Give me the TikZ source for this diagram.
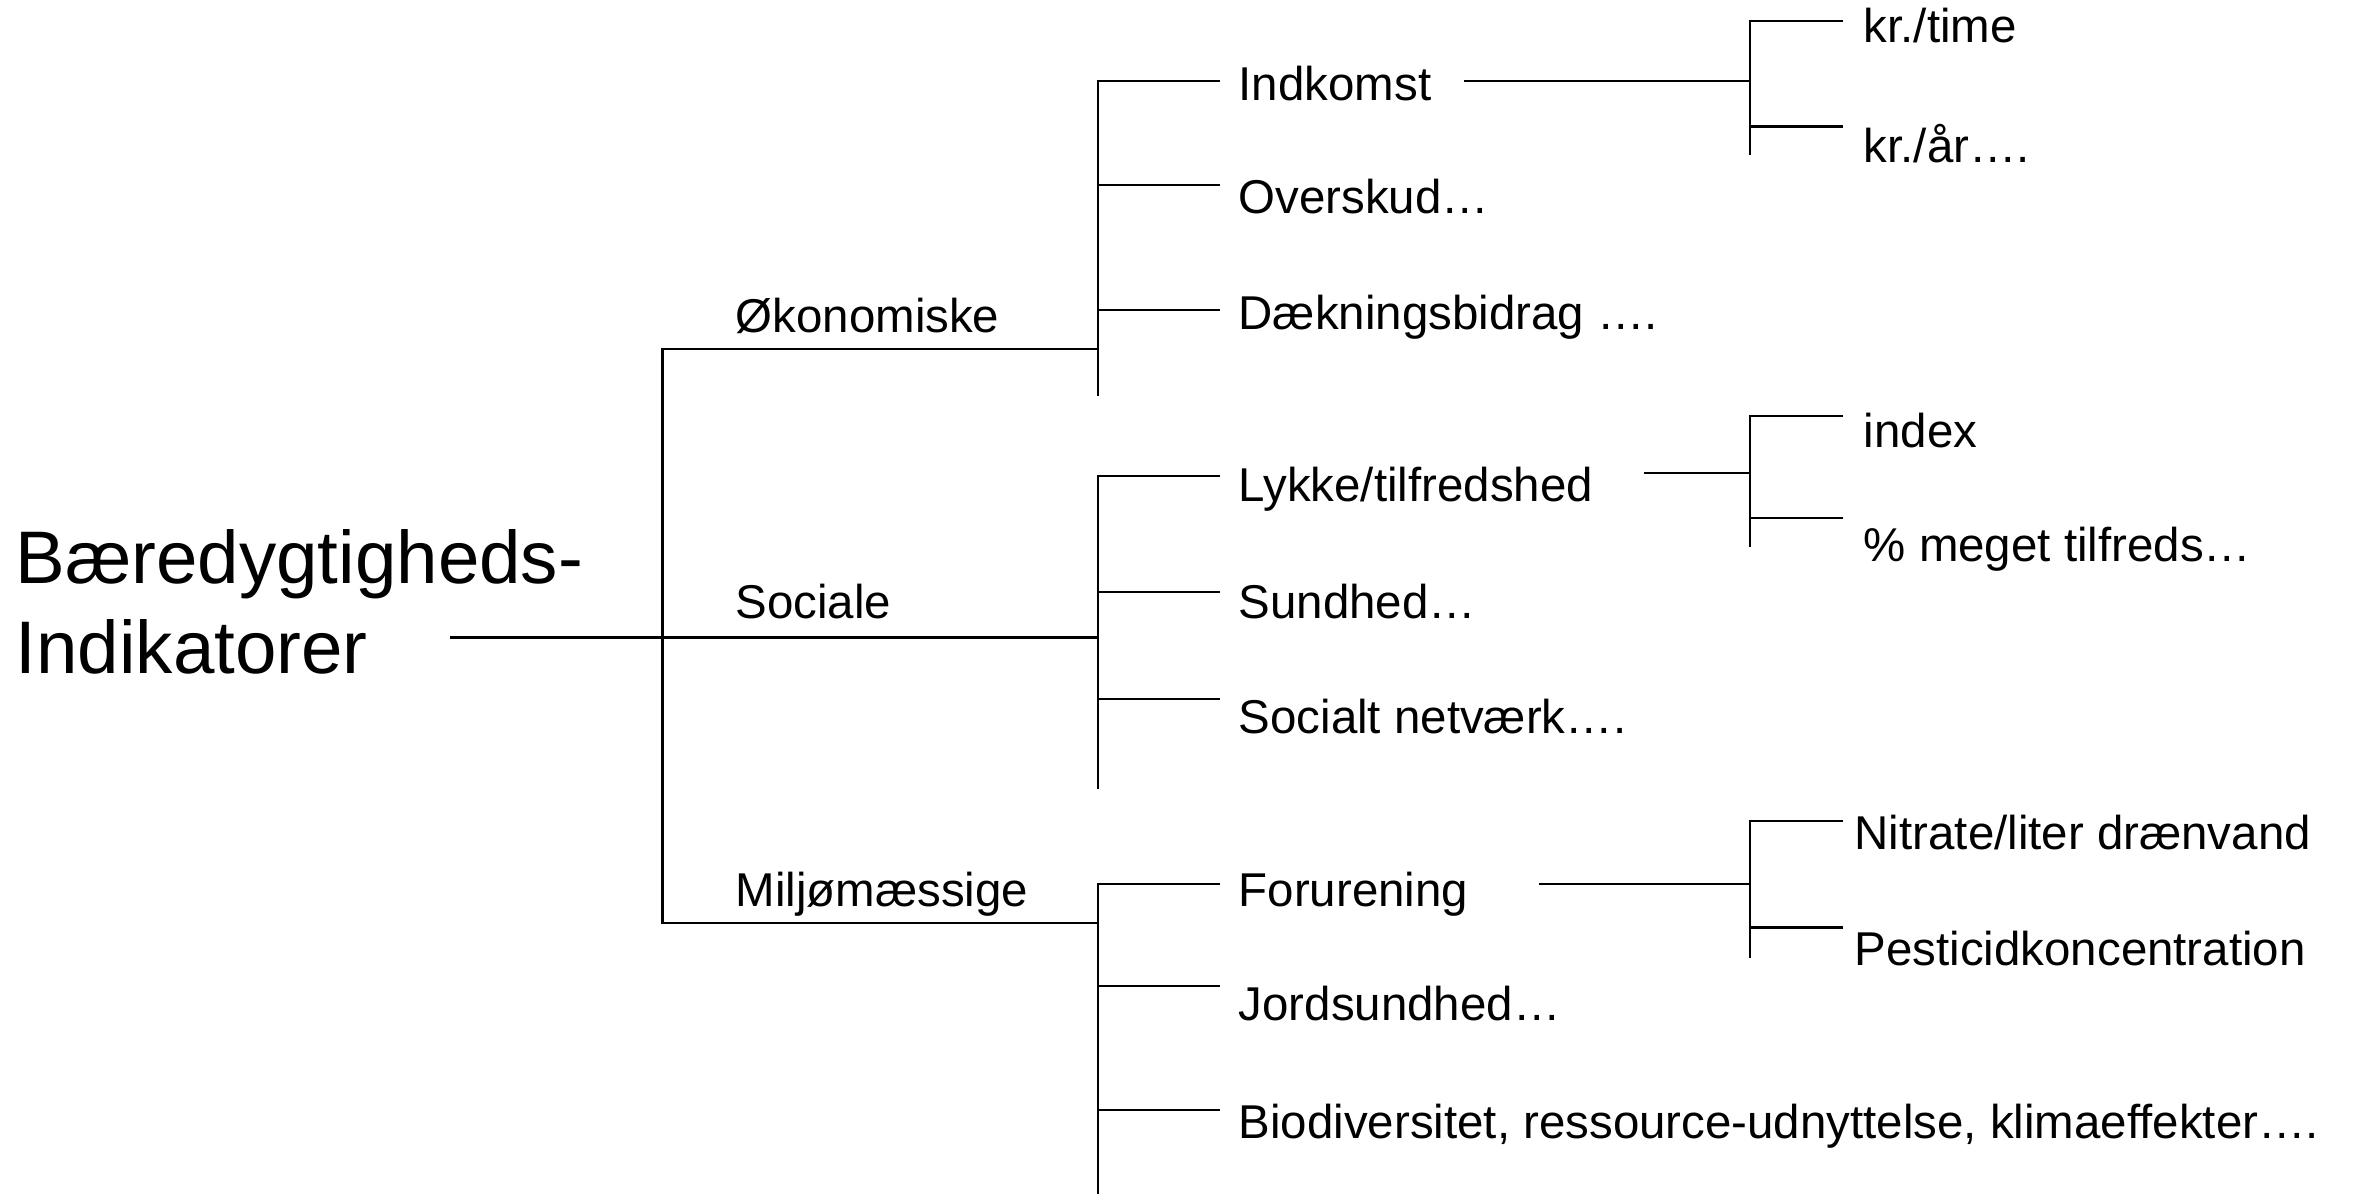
\documentclass[tikz,border=0pt]{standalone}
\usepackage{fontspec}
\setmainfont{Liberation Sans}
\usetikzlibrary{positioning,calc}
\tikzset{
  rootlabel/.style={font=\fontsize{21.2}{25.6}\selectfont, align=left, anchor=base west, inner sep=0pt},
  grouplabel/.style={font=\fontsize{13.5}{16}\selectfont, anchor=base west, inner sep=0pt},
  itemlabel/.style={grouplabel},
  treeline/.style={draw=black, line width=0.6pt}
}
\begin{document}
\begin{tikzpicture}
  \useasboundingbox (0,0) rectangle (23.61,-11.94);
  % labels
  \node[rootlabel] (root) at (0.15,-6.731) {Bæredygtigheds-\\Indikatorer};
  \node[grouplabel] (okon) at (7.35,-3.328) {Økonomiske};
  \node[grouplabel] (soc) at (7.35,-6.188) {Sociale};
  \node[grouplabel] (milj) at (7.35,-9.064) {Miljømæssige};
  \node[itemlabel] (indkomst) at (12.38,-1.000) {Indkomst};
  \node[itemlabel] (overskud) at (12.38,-2.131) {Overskud…};
  \node[itemlabel] (daekning) at (12.38,-3.297) {Dækningsbidrag ….};
  \node[itemlabel] (lykke) at (12.38,-5.014) {Lykke/tilfredshed};
  \node[itemlabel] (sundhed) at (12.38,-6.188) {Sundhed…};
  \node[itemlabel] (netvaerk) at (12.38,-7.333) {Socialt netværk….};
  \node[itemlabel] (forurening) at (12.38,-9.064) {Forurening};
  \node[itemlabel] (jord) at (12.38,-10.209) {Jordsundhed…};
  \node[itemlabel] (biodiv) at (12.38,-11.383) {Biodiversitet, ressource-udnyttelse, klimaeffekter….};
  \node[itemlabel] (krtime) at (18.63,-0.422) {kr./time};
  \node[itemlabel] (krar) at (18.63,-1.626) {kr./år….};
  \node[itemlabel] (index) at (18.63,-4.472) {index};
  \node[itemlabel] (tilfreds) at (18.63,-5.616) {\% meget tilfreds…};
  \node[itemlabel] (nitrat) at (18.54,-8.492) {Nitrate/liter drænvand};
  \node[itemlabel] (pestic) at (18.54,-9.652) {Pesticidkoncentration};
  % level 1
  \coordinate (rootend) at (4.50,-6.375);
  \coordinate (lonebar) at (6.625,0);
  \coordinate (okj) at (10.98,-3.493);
  \coordinate (soj) at (10.98,-6.375);
  \coordinate (mij) at (10.98,-9.230);
  \draw[treeline] (rootend) -- (soj);
  \draw[treeline] (okj) -| (lonebar |- mij) -- (mij);
  % level 2
  \coordinate (okbar) at (10.98,-3.960);
  \coordinate (sobar) at (10.98,-7.890);
  \coordinate (mibar) at (10.98,-11.94);
  \coordinate (indkomst-in) at (12.196,-0.813);
  \coordinate (overskud-in) at (12.196,-1.852);
  \coordinate (daekning-in) at (12.196,-3.102);
  \coordinate (lykke-in) at (12.196,-4.758);
  \coordinate (sundhed-in) at (12.196,-5.917);
  \coordinate (netvaerk-in) at (12.196,-6.986);
  \coordinate (forurening-in) at (12.196,-8.838);
  \coordinate (jord-in) at (12.196,-9.862);
  \coordinate (biodiv-in) at (12.196,-11.097);
  \draw[treeline] (indkomst-in) -| (okbar);
  \draw[treeline] (overskud-in) -- (overskud-in -| okbar);
  \draw[treeline] (daekning-in) -- (daekning-in -| okbar);
  \draw[treeline] (lykke-in) -| (sobar);
  \draw[treeline] (sundhed-in) -- (sundhed-in -| sobar);
  \draw[treeline] (netvaerk-in) -- (netvaerk-in -| sobar);
  \draw[treeline] (forurening-in) -| (mibar);
  \draw[treeline] (jord-in) -- (jord-in -| mibar);
  \draw[treeline] (biodiv-in) -- (biodiv-in -| mibar);
  % level 3
  \coordinate (indkomst-out) at (14.635,-0.813);
  \coordinate (lykke-out) at (16.442,-4.728);
  \coordinate (forurening-out) at (15.388,-8.838);
  \coordinate (krbar) at (17.496,-1.551);
  \coordinate (lykkebar) at (17.496,-5.466);
  \coordinate (forbar) at (17.496,-9.576);
  \coordinate (krtime-in) at (18.43,-0.211);
  \coordinate (krar-in) at (18.43,-1.265);
  \coordinate (index-in) at (18.43,-4.156);
  \coordinate (tilfreds-in) at (18.43,-5.180);
  \coordinate (nitrat-in) at (18.43,-8.206);
  \coordinate (pestic-in) at (18.43,-9.275);
  \draw[treeline] (indkomst-out) -- (indkomst-out -| krbar);
  \draw[treeline] (krtime-in) -| (krbar);
  \draw[treeline] (krar-in) -- (krar-in -| krbar);
  \draw[treeline] (lykke-out) -- (lykke-out -| lykkebar);
  \draw[treeline] (index-in) -| (lykkebar);
  \draw[treeline] (tilfreds-in) -- (tilfreds-in -| lykkebar);
  \draw[treeline] (forurening-out) -- (forurening-out -| forbar);
  \draw[treeline] (nitrat-in) -| (forbar);
  \draw[treeline] (pestic-in) -- (pestic-in -| forbar);
\end{tikzpicture}
\end{document}
